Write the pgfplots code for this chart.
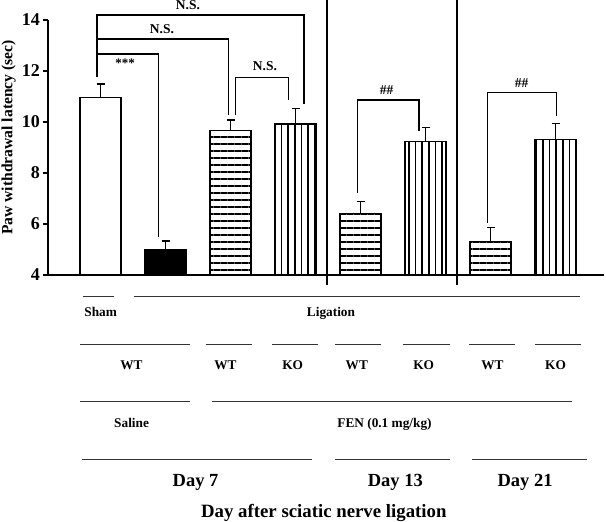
\documentclass[border=0pt]{standalone}
\usepackage{pgfplots}
\pgfplotsset{compat=1.18}
\usetikzlibrary{patterns.meta}
\usepackage{fontspec}
\setmainfont{Liberation Serif}
\newcommand\fs[1]{\fontsize{#1bp}{#1bp}\selectfont\bfseries}
\begin{document}
\begin{tikzpicture}
\useasboundingbox (0,0) rectangle (606bp,522bp);
\begin{axis}[
 at={(48bp,247bp)}, anchor=south west,
 scale only axis, width=556bp, height=255bp,
 xmin=-0.8077, xmax=7.746, ymin=4, ymax=14,
 axis x line*=bottom, axis y line*=left,
 axis line style={line width=1.2bp, black},
 xtick=\empty,
 ytick={4,6,8,10,12,14}, yticklabels={4,6,8,10,12,14},
 yticklabel style={font=\fs{18}, anchor=east, inner sep=0pt, xshift=-3bp},
 tick align=outside, major tick length=5bp, tick style={line width=1.2bp, black},
 mybar/.style={ybar, bar width=41bp, bar shift=0pt, draw=black, line width=1.2bp,
   error bars/y dir=plus, error bars/y explicit,
   error bars/error mark=|,
   error bars/error bar style={line width=1.2bp, black},
   error bars/error mark options={line width=1.2bp, black, mark size=4bp}},
 hstripe/.style={pattern={Lines[angle=0,distance=7bp,line width=2bp]}},
 vstripe/.style={pattern={Lines[angle=90,distance=6.7bp,line width=1.8bp]}},
]
\addplot[mybar, fill=white] coordinates {(0,10.97) +- (0,0.52)};
\addplot[mybar, fill=black] coordinates {(1,5.00) +- (0,0.33)};
\addplot[mybar, hstripe] coordinates {(2,9.66) +- (0,0.42)};
\addplot[mybar, vstripe] coordinates {(3,9.92) +- (0,0.62)};
\addplot[mybar, hstripe] coordinates {(4,6.42) +- (0,0.47)};
\addplot[mybar, vstripe] coordinates {(5,9.24) +- (0,0.55)};
\addplot[mybar, hstripe] coordinates {(6,5.31) +- (0,0.55)};
\addplot[mybar, vstripe] coordinates {(7,9.32) +- (0,0.61)};
\end{axis}
\begin{scope}[x=1bp, y=-1bp, shift={(0,522bp)}, line width=1.2bp]
% separators
\draw (327,-2) -- (327,285);
\draw (457,-2) -- (457,285);
% brackets
\draw (97,77.3) -- (97,15) -- (304,15) -- (304,104);
\draw (97,39) -- (228.3,39) -- (228.3,115);
\draw (97,54) -- (158.7,54) -- (158.7,236.7);
\draw (235.3,115) -- (235.3,77.3) -- (288.3,77.3) -- (288.3,100);
\draw (357.3,192.7) -- (357.3,100) -- (419,100) -- (419,131);
\draw (487.7,222.7) -- (487.7,92.7) -- (556.7,92.7) -- (556.7,116);
\begin{scope}[every node/.style={inner sep=0pt, anchor=base}]
\node[font=\fs{13.5}] at (188,10) {N.S.};
\node[font=\fs{13.5}] at (162,33.3) {N.S.};
\node[font=\fs{13.5}] at (265,70.7) {N.S.};
\node[font=\fs{13}] at (125,68) {***};
\node[font=\fs{13.5}] at (386.7,95) {\#\#};
\node[font=\fs{13.5}] at (521.7,87.3) {\#\#};
% y label
\node[font=\fs{15.6}, rotate=90] at (12.3,137.5) {Paw withdrawal latency (sec)};
% bottom table
\node[font=\fs{13.3}] at (100.7,317) {Sham};
\node[font=\fs{13.3}] at (331,317) {Ligation};
\node[font=\fs{13.3}] at (131.4,370) {WT};
\node[font=\fs{13.3}] at (225.4,370) {WT};
\node[font=\fs{13.3}] at (292.6,370) {KO};
\node[font=\fs{13.3}] at (356.8,370) {WT};
\node[font=\fs{13.3}] at (423.7,370) {KO};
\node[font=\fs{13.3}] at (492.5,370) {WT};
\node[font=\fs{13.3}] at (555.5,370) {KO};
\node[font=\fs{13.3}] at (131.6,427.7) {Saline};
\node[font=\fs{13.3}] at (384.5,427.7) {FEN (0.1 mg/kg)};
\node[font=\fs{18.5}] at (195.6,486.7) {Day 7};
\node[font=\fs{18.5}] at (395.3,486.7) {Day 13};
\node[font=\fs{18.5}] at (525.1,486.7) {Day 21};
\node[font=\fs{18.8}] at (323.8,517.7) {Day after sciatic nerve ligation};
\end{scope}
\begin{scope}[line width=0.9bp, black!80]
\draw (83,296.7) -- (114.4,296.7);
\draw (134,296.7) -- (580,296.7);
\draw (80,344.3) -- (190,344.3);
\draw (206,344.3) -- (252,344.3);
\draw (272,344.3) -- (318,344.3);
\draw (335,344.3) -- (381,344.3);
\draw (403,344.3) -- (450,344.3);
\draw (469,344.3) -- (515,344.3);
\draw (535,344.3) -- (581,344.3);
\draw (80,401.7) -- (190,401.7);
\draw (212,401.7) -- (571.7,401.7);
\draw (82,459.3) -- (312,459.3);
\draw (335,459.3) -- (450,459.3);
\draw (472,459.3) -- (587,459.3);
\end{scope}
\end{scope}
\end{tikzpicture}
\end{document}
